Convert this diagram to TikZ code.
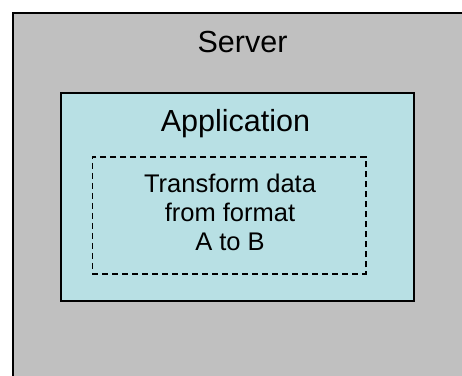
\documentclass[tikz,border=0pt]{standalone}
\usepackage{fontspec}
\setmainfont{Liberation Sans}
\definecolor{servergray}{RGB}{192,192,192}
\definecolor{appblue}{RGB}{184,224,228}
\tikzset{
  serverbox/.style={draw=black, line width=1.5pt, fill=servergray, anchor=north west, inner sep=0pt},
  appbox/.style={draw=black, line width=2pt, fill=appblue, anchor=north west, inner sep=0pt},
  taskbox/.style={draw=black, line width=1.5pt, dash pattern=on 6pt off 4pt, anchor=north west, inner sep=0pt},
  bigtext/.style={font=\fontsize{30.5}{35}\selectfont, inner sep=0pt},
  smalltext/.style={font=\fontsize{25.5}{29}\selectfont, align=center, inner sep=0pt}
}
\begin{document}
\begin{tikzpicture}[x=1pt,y=-1pt]
\useasboundingbox (0,0) rectangle (462,375);
\clip (0,0) rectangle (462,375);
\fill[white] (0,0) rectangle (462,375);
\node[serverbox, minimum width=470pt, minimum height=390pt] (server) at (12,12) {};
\node[bigtext] (servertxt) at (242.5,41.5) {Server};
\node[appbox, minimum width=352.5pt, minimum height=208pt] (app) at (60,92) {};
\node[bigtext] (apptxt) at (235.5,123.5) {Application};
\node[taskbox, minimum width=273.5pt, minimum height=117pt] (task) at (91.5,156) {};
\node[smalltext] (tasktxt) at (230,212) {Transform data\\from format\\A to B};
\end{tikzpicture}
\end{document}
